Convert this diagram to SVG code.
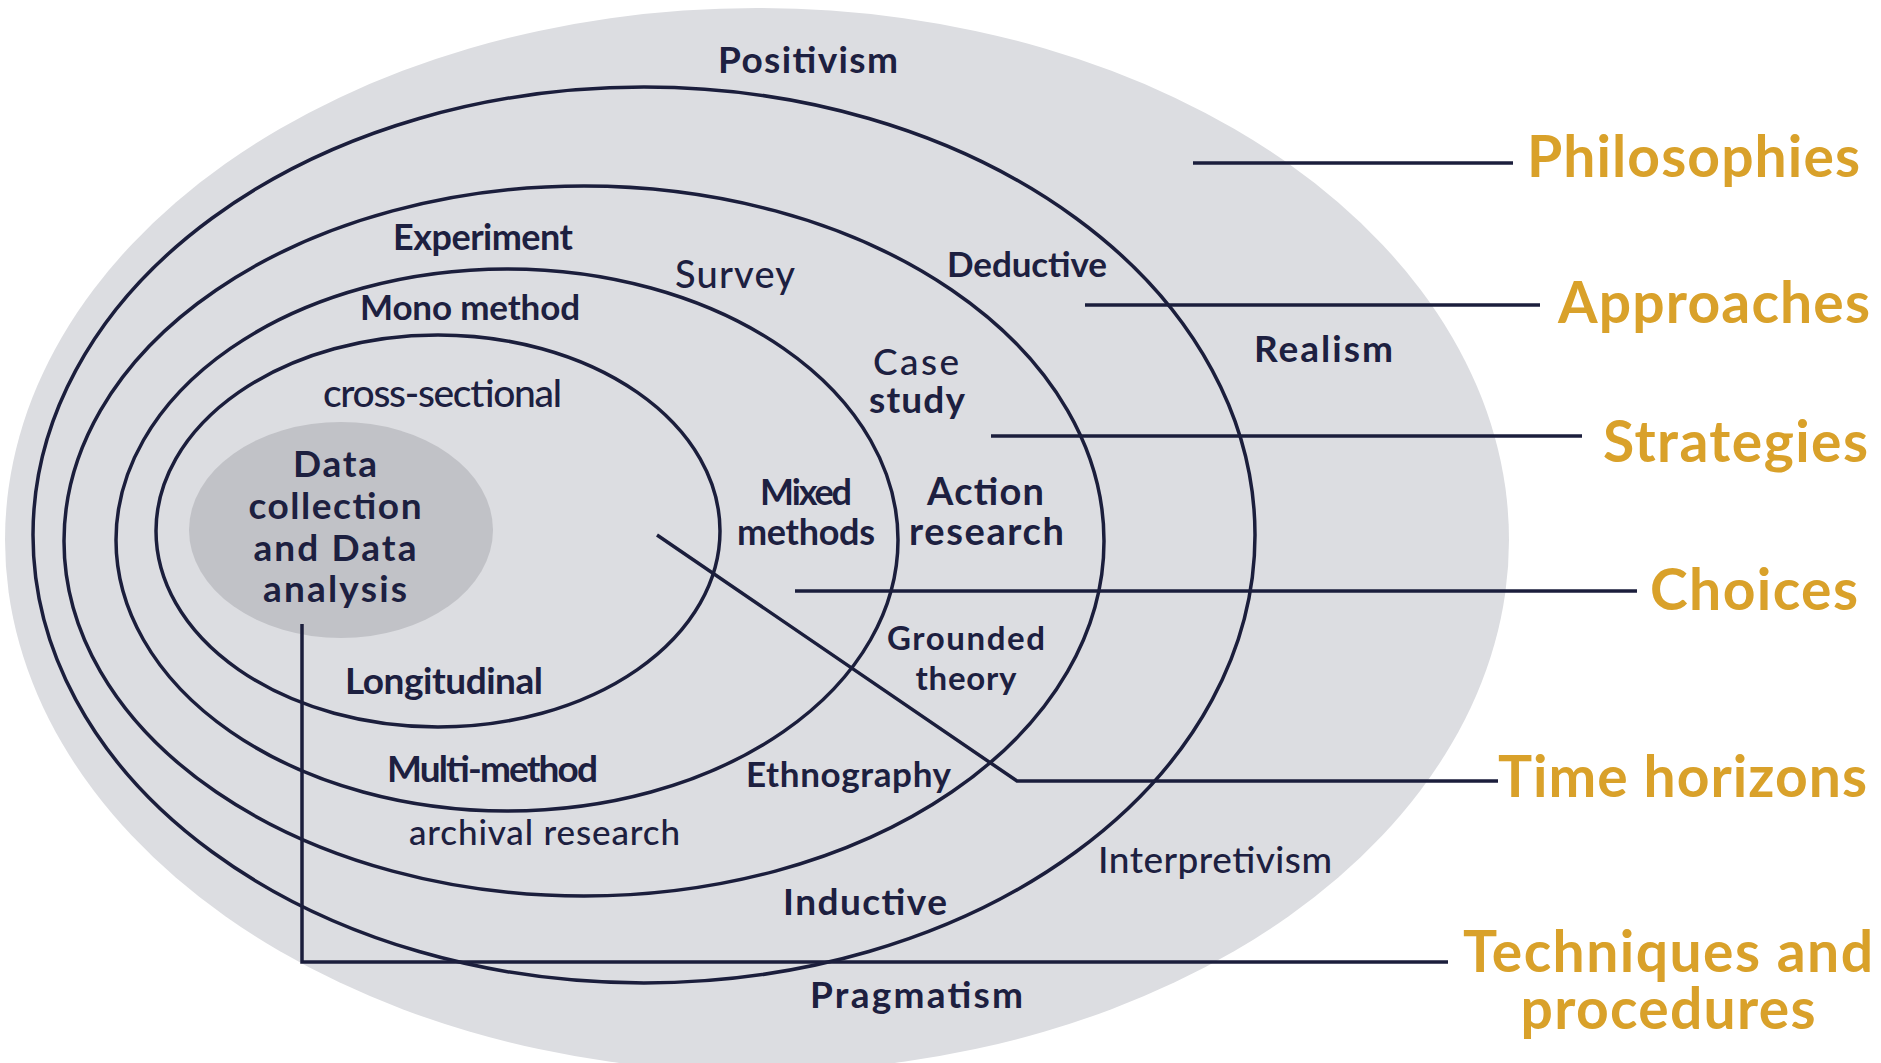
<svg xmlns="http://www.w3.org/2000/svg" width="1881" height="1063" viewBox="0 0 1881 1063">
  <style>
    .ring { fill: none; stroke: #1b1e3c; stroke-width: 3.5; }
    .lead { fill: none; stroke: #1b1e3c; stroke-width: 3.5; stroke-linejoin: miter; }
    .t { font-family: Lato, "Liberation Sans", sans-serif; fill: #1d2040; }
    .b { font-weight: 700; }
    .m { font-weight: 500; }
    .lab { font-family: Lato, "Liberation Sans", sans-serif; font-weight: 700; fill: #d9a12a; font-size: 57px; }
  </style>
  <rect x="0" y="0" width="1881" height="1063" fill="#ffffff"/>

  <g id="onion-background">
    <ellipse cx="757" cy="540" rx="752" ry="532" fill="#dcdde1"/>
  </g>

  <g id="philosophies-layer">
    <ellipse class="ring" cx="644" cy="535" rx="611" ry="448"/>
    <text class="t b" x="718" y="73" font-size="37" textLength="180">Positivism</text>
    <text class="t b" x="1254" y="362" font-size="37" textLength="139">Realism</text>
    <text class="t m" x="1098" y="873" font-size="37" textLength="234">Interpretivism</text>
    <text class="t b" x="810" y="1008" font-size="37" textLength="213">Pragmatism</text>
  </g>

  <g id="approaches-layer">
    <ellipse class="ring" cx="584" cy="541" rx="520" ry="355"/>
    <text class="t b" x="947" y="277" font-size="35" textLength="160">Deductive</text>
    <text class="t b" x="783" y="915" font-size="37" textLength="164">Inductive</text>
  </g>

  <g id="strategies-layer">
    <ellipse class="ring" cx="507" cy="540" rx="391" ry="271"/>
    <text class="t b" x="393" y="250" font-size="36" textLength="180">Experiment</text>
    <text class="t m" x="675" y="288" font-size="38" textLength="120">Survey</text>
    <text class="t" font-size="37"><tspan class="m" x="873" y="375" textLength="86">Case</tspan><tspan class="b" x="869" y="413" textLength="96">study</tspan></text>
    <text class="t b" font-size="38"><tspan x="927" y="505" textLength="117">Action</tspan><tspan x="909" y="545" textLength="155">research</tspan></text>
    <text class="t b" font-size="33" text-anchor="middle"><tspan x="966" y="650" textLength="158">Grounded</tspan><tspan x="966" y="690" textLength="101">theory</tspan></text>
    <text class="t b" x="746" y="787" font-size="35" textLength="205">Ethnography</text>
    <text class="t m" x="409" y="845" font-size="35" textLength="271">archival research</text>
  </g>

  <g id="choices-layer">
    <ellipse class="ring" cx="438" cy="531" rx="282" ry="196"/>
    <text class="t b" x="360" y="320" font-size="35" textLength="220">Mono method</text>
    <text class="t b" font-size="36"><tspan x="760" y="505" textLength="92">Mixed</tspan><tspan x="737" y="545" textLength="138">methods</tspan></text>
    <text class="t b" x="387" y="782" font-size="37" textLength="211">Multi-method</text>
  </g>

  <g id="time-horizons-layer">
    <text class="t m" x="323" y="407" font-size="39" textLength="239">cross-sectional</text>
    <text class="t b" x="345" y="694" font-size="37" textLength="198">Longitudinal</text>
  </g>

  <g id="techniques-core">
    <ellipse cx="341" cy="530" rx="152" ry="108" fill="#c1c2c7"/>
    <text class="t b" font-size="37" text-anchor="middle"><tspan x="335" y="477" textLength="84">Data</tspan><tspan x="335" y="519" textLength="173">collection</tspan><tspan x="335" y="561" textLength="163">and Data</tspan><tspan x="335" y="602" textLength="144">analysis</tspan></text>
  </g>

  <g id="connectors">
    <polyline class="lead" points="1193,163 1513,163"/>
    <polyline class="lead" points="1085,305 1540,305"/>
    <polyline class="lead" points="991,436 1582,436"/>
    <polyline class="lead" points="795,591 1637,591"/>
    <polyline class="lead" points="657,535 1017,781 1498,781"/>
    <polyline class="lead" points="302,624 302,962 1448,962"/>
  </g>

  <g id="layer-labels">
    <text class="lab" x="1527" y="177" textLength="333">Philosophies</text>
    <text class="lab" x="1558" y="323" textLength="312">Approaches</text>
    <text class="lab" x="1603" y="462" textLength="265">Strategies</text>
    <text class="lab" x="1650" y="610" textLength="208">Choices</text>
    <text class="lab" x="1498" y="797" textLength="369">Time horizons</text>
    <text class="lab" text-anchor="middle"><tspan x="1668" y="972" textLength="410">Techniques and</tspan><tspan x="1668" y="1029" textLength="295">procedures</tspan></text>
  </g>
</svg>
